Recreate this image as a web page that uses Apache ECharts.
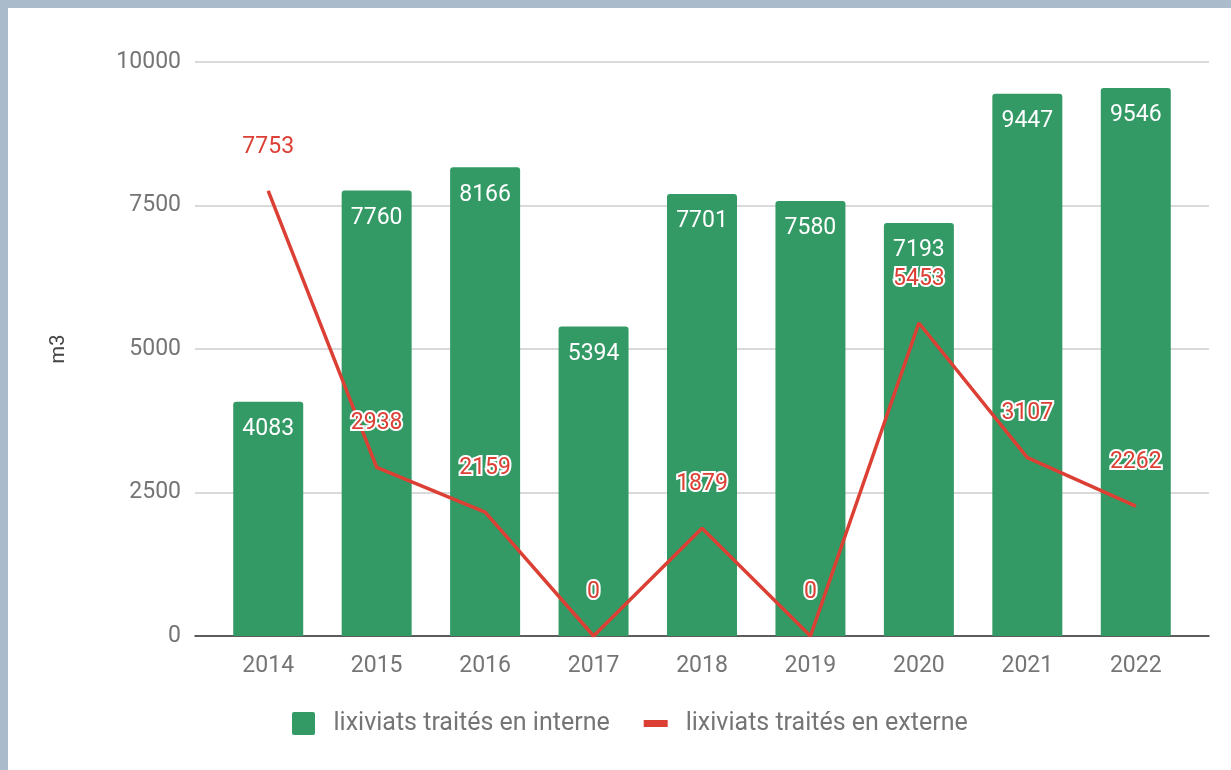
<!DOCTYPE html>
<html>
<head>
<meta charset="utf-8">
<title>lixiviats</title>
<script src="https://cdn.jsdelivr.net/npm/echarts@6/dist/echarts.min.js"></script>
<style>
  html, body { margin: 0; padding: 0; background: #aabbcb; }
  .card { position: absolute; left: 8px; top: 8px; width: 1223px; height: 762px; background: #fff; }
  #chart { position: absolute; left: 0; top: 0; width: 1231px; height: 770px; }
</style>
</head>
<body>
<div class="card"></div>
<div id="chart"></div>
<script>
var years = ['2014', '2015', '2016', '2017', '2018', '2019', '2020', '2021', '2022']
var interne = [4083, 7760, 8166, 5394, 7701, 7580, 7193, 9447, 9546]
var externe = [7753, 2938, 2159, 0, 1879, 0, 5453, 3107, 2262]
var yTicks = [0, 2500, 5000, 7500, 10000]

var green = '#339a66'
var red = '#dc4034'
var font = 'Roboto'

var chart = echarts.init(document.getElementById('chart'))
chart.setOption({
  backgroundColor: 'transparent',
  textStyle: { fontFamily: font },
  animation: false,
  grid: [
    // wide grid only for gridlines / baseline
    { left: 195, right: 22, top: 62, bottom: 134 },
    // bars and line
    { left: 214, right: 41, top: 62, bottom: 134 }
  ],
  xAxis: [{
    gridIndex: 0,
    type: 'category',
    data: years,
    axisLine: { lineStyle: { color: '#333', width: 1.5 } },
    axisTick: { show: false },
    axisLabel: { show: false }
  }, {
    gridIndex: 1,
    type: 'category',
    data: years,
    axisLine: { show: false },
    axisTick: { show: false },
    axisLabel: { color: '#757575', fontSize: 23, margin: 19, fontFamily: font }
  }],
  yAxis: [{
    gridIndex: 0,
    type: 'value',
    min: yTicks[0],
    max: yTicks[yTicks.length - 1],
    interval: 2500,
    name: 'm3',
    nameLocation: 'middle',
    nameGap: 126,
    nameTextStyle: { color: '#444', fontSize: 20, fontFamily: font },
    axisLine: { show: false },
    axisTick: { show: false },
    axisLabel: {
      color: '#757575', fontSize: 23, margin: 14, fontFamily: font,
      formatter: function (v) { return String(v) }
    },
    splitLine: { lineStyle: { color: '#cccccc', width: 1.5 } }
  }, {
    gridIndex: 1,
    type: 'value',
    min: yTicks[0],
    max: yTicks[yTicks.length - 1],
    interval: 2500,
    show: false,
    splitLine: { show: false }
  }],
  legend: {
    bottom: 29,
    left: 287,
    itemWidth: 24,
    itemHeight: 23,
    itemGap: 34,
    textStyle: { color: '#757575', fontSize: 25, fontFamily: font, padding: [0, 0, 0, 13] },
    data: [
      { name: 'lixiviats traités en interne', icon: 'path://M2,0H21A2,2,0,0,1,23,2V21A2,2,0,0,1,21,23H2A2,2,0,0,1,0,21V2A2,2,0,0,1,2,0Z' },
      { name: 'lixiviats traités en externe', icon: 'path://M0,0H24V7H0Z' }
    ]
  },
  series: [{
    name: 'lixiviats traités en interne',
    type: 'bar',
    xAxisIndex: 1,
    yAxisIndex: 1,
    data: interne,
    barWidth: 70,
    itemStyle: { color: green, borderRadius: [3, 3, 0, 0] },
    label: {
      show: true,
      position: 'insideTop',
      distance: 16,
      color: '#fff',
      fontSize: 23,
      fontFamily: font
    }
  }, {
    name: 'lixiviats traités en externe',
    type: 'line',
    xAxisIndex: 1,
    yAxisIndex: 1,
    data: externe,
    z: 5,
    symbol: 'circle',
    symbolSize: 1,
    showSymbol: true,
    itemStyle: { color: red },
    lineStyle: { color: red, width: 3.5 },
    label: {
      show: true,
      position: 'top',
      distance: 32,
      color: red,
      fontSize: 23,
      fontFamily: font,
      textBorderColor: '#fff',
      textBorderWidth: 4
    }
  }]
})
</script>
</body>
</html>
